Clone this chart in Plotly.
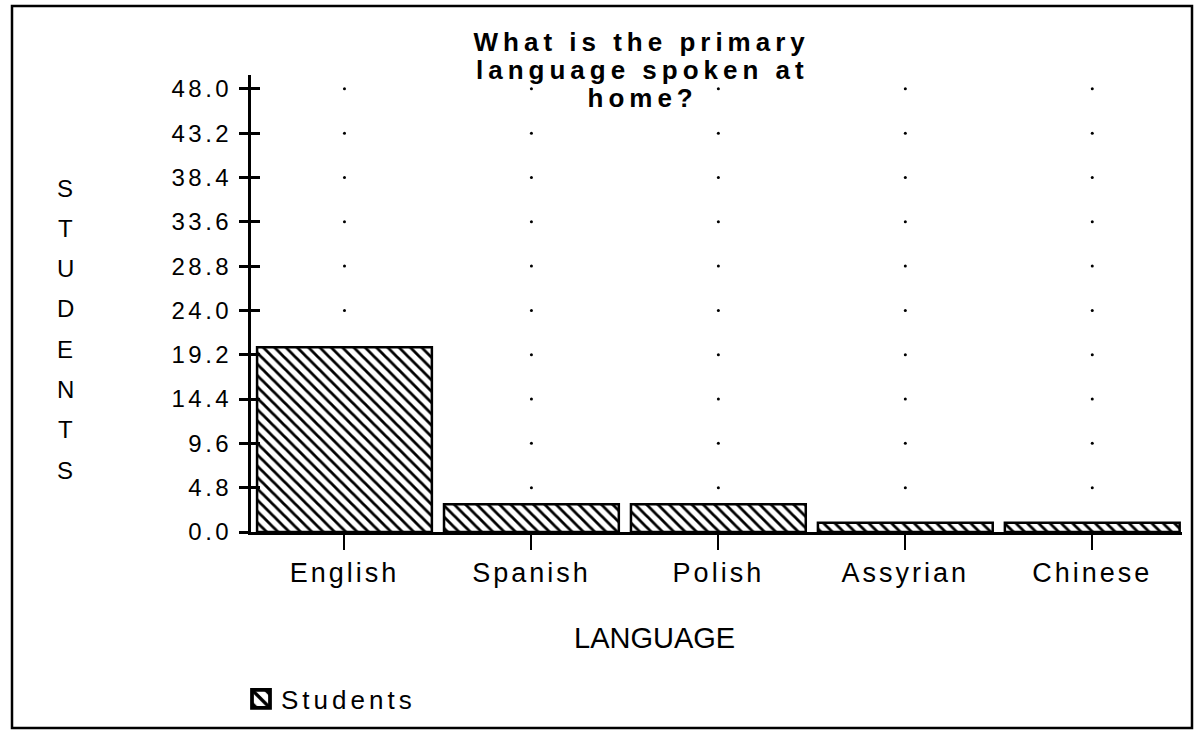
import plotly.graph_objects as go

# ---- data ----
languages = ["English", "Spanish", "Polish", "Assyrian", "Chinese"]
students = [20, 3, 3, 1, 1]
y_ticks = [0.0, 4.8, 9.6, 14.4, 19.2, 24.0, 28.8, 33.6, 38.4, 43.2, 48.0]
y_tick_labels = ["%.1f" % v for v in y_ticks]
title_lines = ["What is the primary", "language spoken at", "home?"]
y_title = "STUDENTS"
x_title = "LANGUAGE"
series_name = "Students"

FONT = "Liberation Sans, Arial, Helvetica, sans-serif"

# plot area geometry (pixels)
L, R, T, B = 251, 17, 75, 199
W, H = 1199, 731
PW, PH = W - L - R, H - T - B


def px(x):
    return (x - L) / PW


def py(y):
    return (H - B - y) / PH


fig = go.Figure()

fig.add_trace(go.Bar(
    x=languages, y=students, name=series_name,
    marker=dict(color="white", line=dict(color="black", width=2.5),
                pattern=dict(shape="\\", fgcolor="black", bgcolor="white",
                             fgopacity=1, size=8, solidity=0.35)),
    showlegend=True,
))

# dotted grid: one dot per category at every labelled y tick (hidden behind bars)
gx, gy = [], []
for c, s in zip(languages, students):
    for v in y_ticks[1:]:
        if v > s:
            gx.append(c)
            gy.append(v)
fig.add_trace(go.Scatter(x=gx, y=gy, mode="markers",
                         marker=dict(color="black", size=3),
                         showlegend=False, hoverinfo="skip"))

# invisible trace to carry the inner half of the crossing y ticks
fig.add_trace(go.Scatter(x=[languages[0]], y=[0], yaxis="y2", mode="markers",
                         marker=dict(opacity=0), showlegend=False, hoverinfo="skip"))

annotations = []
for line, yc in zip(title_lines, [42.5, 70, 98]):
    annotations.append(dict(text="<b>%s</b>" % line, x=px(642), y=py(yc),
                            xref="paper", yref="paper", showarrow=False,
                            xanchor="center", yanchor="middle",
                            font=dict(family=FONT, size=26, color="black")))
for i, ch in enumerate(y_title):
    annotations.append(dict(text=ch, x=px(65), y=py(188 + 40.3 * i),
                            xref="paper", yref="paper", showarrow=False,
                            xanchor="center", yanchor="middle",
                            font=dict(family=FONT, size=24, color="black")))
annotations.append(dict(text=x_title, x=px(654.5), y=py(637.5),
                        xref="paper", yref="paper", showarrow=False,
                        xanchor="center", yanchor="middle",
                        font=dict(family=FONT, size=29, color="black")))

fig.update_layout(
    width=W, height=H,
    margin=dict(l=L, r=R, t=T, b=B, autoexpand=False),
    paper_bgcolor="white", plot_bgcolor="white",
    font=dict(family=FONT, color="black"),
    bargap=0.065,
    annotations=annotations,
    legend=dict(x=px(241), y=py(699), xanchor="left", yanchor="middle",
                font=dict(family=FONT, size=26, color="black"),
                bgcolor="rgba(0,0,0,0)", itemwidth=30),
    xaxis=dict(type="category", range=[-0.5, 4.48], showline=True,
               linecolor="black", linewidth=2.5, ticks="outside", ticklen=15,
               tickwidth=2, tickcolor="black", showgrid=False, zeroline=False,
               tickfont=dict(family=FONT, size=27, color="black"),
               fixedrange=True),
    yaxis=dict(range=[0, 49.5], tickvals=y_ticks, ticktext=y_tick_labels,
               showline=True, linecolor="black", linewidth=3,
               ticks="outside", ticklen=9, tickwidth=2.5, tickcolor="black",
               showgrid=False, zeroline=False, ticklabelstandoff=2,
               tickfont=dict(family=FONT, size=24, color="black")),
    yaxis2=dict(range=[0, 49.5], overlaying="y", side="left", tickvals=y_ticks,
                showticklabels=False, ticks="inside", ticklen=9, tickwidth=2.5,
                tickcolor="black", showline=False, showgrid=False,
                zeroline=False),
    shapes=[dict(type="rect", xref="paper", yref="paper",
                 x0=px(12), x1=px(1192), y0=py(728), y1=py(6),
                 line=dict(color="black", width=2.5))],
)

post = """
var st=document.createElement('style');
st.textContent='html,body{margin:0;padding:0;overflow:hidden}'+
 '.xtick text{letter-spacing:3px}.ytick text{letter-spacing:3.5px}'+
 '.legendtext{letter-spacing:4px}'+
 '.legend .scrollbox{clip-path:none !important}'+
 '.legendpoints path{transform:translate(20px,0px) scale(1.5)}';
document.head.appendChild(st);
document.querySelectorAll('.annotation-text').forEach(function(t){
  if (parseFloat(t.style.fontSize)===26) { t.style.letterSpacing='5px'; }
});
"""

fig.write_html("out.html", post_script=post, config={"displayModeBar": False})
